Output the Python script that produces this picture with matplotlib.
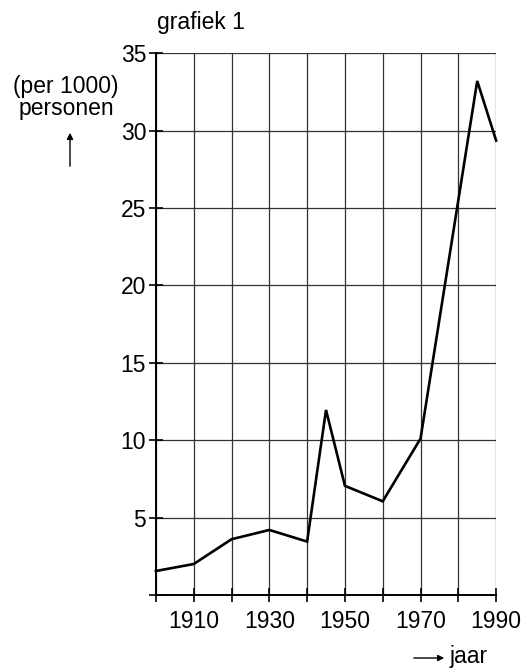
import matplotlib
matplotlib.use("Agg")
import matplotlib.pyplot as plt

plt.rcParams['font.family'] = ['Liberation Sans', 'DejaVu Sans']

years = [1900, 1910, 1920, 1930, 1940, 1945, 1950, 1960, 1970, 1985, 1990]
values = [1.55, 2.0, 3.6, 4.2, 3.45, 11.95, 7.05, 6.05, 10.1, 33.2, 29.35]
x_ticks = list(range(1900, 1991, 10))
x_labels = ['', '1910', '', '1930', '', '1950', '', '1970', '', '1990']
y_ticks = [0, 5, 10, 15, 20, 25, 30, 35]
y_labels = ['', '5', '10', '15', '20', '25', '30', '35']

fig = plt.figure(figsize=(5.25, 6.72), dpi=100)
ax = fig.add_axes([0.297, 0.1146, 0.648, 0.8064])

ax.set_xlim(1900, 1990)
ax.set_ylim(0, 35)
ax.set_xticks(x_ticks)
ax.set_xticklabels(x_labels)
ax.set_yticks(y_ticks)
ax.set_yticklabels(y_labels)
ax.grid(True, color='#333333', linewidth=0.9)
ax.set_axisbelow(True)

for s in ['top', 'right']:
    ax.spines[s].set_visible(False)
for s in ['left', 'bottom']:
    ax.spines[s].set_linewidth(1.4)
    ax.spines[s].set_color('black')

ax.tick_params(axis='both', direction='inout', length=10, width=1.2,
               labelsize=16.5, colors='black', pad=2)
ax.tick_params(axis='x', pad=6)

ax.plot(years, values, color='black', linewidth=1.9, clip_on=False,
        solid_joinstyle='miter', zorder=5)

fs = 16.5
fig.text(201 / 525, 1 - 22 / 672, 'grafiek 1', ha='center', va='center', fontsize=fs)
fig.text(66 / 525, 1 - 86 / 672, '(per 1000)', ha='center', va='center', fontsize=fs)
fig.text(66 / 525, 1 - 108 / 672, 'personen', ha='center', va='center', fontsize=fs)
fig.patches.append(matplotlib.patches.FancyArrowPatch(
    (70 / 525, 1 - 169 / 672), (70 / 525, 1 - 130 / 672),
    transform=fig.transFigure, arrowstyle='-|>', mutation_scale=9,
    color='black', linewidth=1.0))

fig.patches.append(matplotlib.patches.FancyArrowPatch(
    (411 / 525, 1 - 658 / 672), (447 / 525, 1 - 658 / 672),
    transform=fig.transFigure, arrowstyle='-|>', mutation_scale=9,
    color='black', linewidth=1.0))
fig.text(450 / 525, 1 - 656 / 672, 'jaar', ha='left', va='center', fontsize=fs)

fig.savefig('out.png', dpi=100)
